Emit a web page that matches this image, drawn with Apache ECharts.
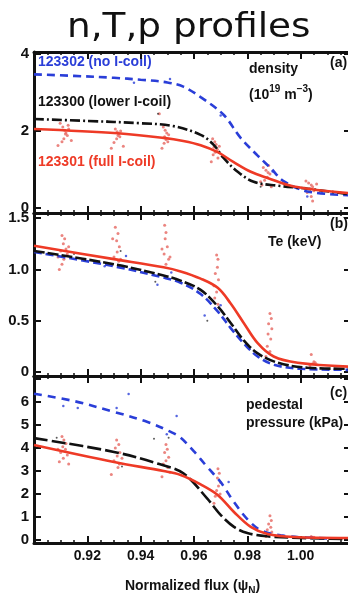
<!DOCTYPE html>
<html>
<head>
<meta charset="utf-8">
<script src="https://cdn.jsdelivr.net/npm/echarts@6/dist/echarts.min.js"></script>
<style>
  html, body { margin: 0; padding: 0; background: #fff; }
  #chart { width: 348px; height: 593px; }
</style>
</head>
<body>
<div id="chart"></div>
<script>
// Profiles vs normalized flux, three shots.

const fluxMajorTicks = [0.90, 0.92, 0.94, 0.96, 0.98, 1.00];
const fluxMinorTicks = [0.905, 0.91, 0.915, 0.925, 0.93, 0.935, 0.945, 0.95, 0.955,
  0.965, 0.97, 0.975, 0.985, 0.99, 0.995, 1.005, 1.01, 1.015];
const fluxLabels = [0.92, 0.94, 0.96, 0.98, 1.00];

const densityTicks = [0, 2, 4];
const tempTicks = [0, 0.5, 1.0, 1.5];
const pressureTicks = [0, 1, 2, 3, 4, 5, 6, 7];
const pressureLabels = [0, 1, 2, 3, 4, 5, 6];

// (a) density, 10^19 m^-3
const densNoCoil = [[0.900, 3.47], [0.915, 3.43], [0.930, 3.38], [0.940, 3.33], [0.950, 3.26],
  [0.956, 3.15], [0.9625, 2.88], [0.9711, 2.42], [0.9775, 1.82], [0.9839, 1.36], [0.9887, 1.04],
  [0.9936, 0.70], [1.0026, 0.43], [1.019, 0.33]];
const densLowerCoil = [[0.900, 2.31], [0.920, 2.26], [0.940, 2.20], [0.952, 2.13],
  [0.9625, 1.90], [0.9674, 1.64], [0.9711, 1.30], [0.9764, 0.94], [0.9824, 0.68], [0.9914, 0.58],
  [1.0026, 0.50], [1.019, 0.35]];
const densFullCoil = [[0.900, 2.05], [0.9314, 1.94], [0.9486, 1.82], [0.956, 1.74], [0.9625, 1.63],
  [0.9689, 1.45], [0.9749, 1.19], [0.9813, 0.94], [0.9876, 0.78], [0.9974, 0.56], [1.019, 0.38]];

// (b) Te, keV
const tempNoCoil = [[0.900, 1.17], [0.930, 1.03], [0.9486, 0.92], [0.955, 0.87], [0.9625, 0.76],
  [0.9689, 0.59], [0.9737, 0.43], [0.9786, 0.28], [0.9839, 0.15], [0.990, 0.07], [1.000, 0.03],
  [1.019, 0.02]];
const tempLowerCoil = [[0.900, 1.18], [0.930, 1.05], [0.9486, 0.94], [0.955, 0.89], [0.9625, 0.80],
  [0.9689, 0.64], [0.9737, 0.48], [0.9786, 0.31], [0.9839, 0.18], [0.9914, 0.09], [1.0026, 0.04],
  [1.019, 0.03]];
const tempFullCoil = [[0.900, 1.23], [0.930, 1.10], [0.9486, 1.02], [0.955, 0.98], [0.9625, 0.91],
  [0.9689, 0.82], [0.9737, 0.67], [0.9786, 0.48], [0.9839, 0.28], [0.9899, 0.15], [0.9989, 0.09],
  [1.019, 0.05]];

// (c) pedestal pressure, kPa
const presNoCoil = [[0.900, 6.36], [0.915, 6.04], [0.930, 5.57], [0.9426, 5.13], [0.9513, 4.70],
  [0.955, 4.45], [0.960, 3.85], [0.965, 3.17], [0.970, 2.52], [0.975, 1.65], [0.980, 0.91],
  [0.985, 0.43], [0.9925, 0.20], [1.005, 0.09], [1.019, 0.05]];
const presLowerCoil = [[0.900, 4.43], [0.930, 3.83], [0.947, 3.30], [0.956, 2.90],
  [0.965, 1.80], [0.970, 1.09], [0.975, 0.57], [0.980, 0.30], [0.9875, 0.16], [1.000, 0.09],
  [1.019, 0.04]];
const presFullCoil = [[0.900, 4.13], [0.930, 3.39], [0.9486, 3.00], [0.955, 2.83], [0.9625, 2.42],
  [0.9689, 1.96], [0.975, 1.22], [0.9813, 0.57], [0.9876, 0.26], [0.9974, 0.13], [1.019, 0.09]];

// measured points (red = full I-coil shot, plus a few blue / black)
const densPointsRed = [
  [0.9098, 2.20], [0.9108, 2.10], [0.9115, 2.02], [0.9120, 1.95], [0.9125, 1.88], [0.9112, 1.80],
  [0.9105, 1.72], [0.9130, 2.05], [0.9118, 1.92], [0.9140, 1.75], [0.9090, 1.62], [0.9128, 2.15],
  [0.9305, 2.05], [0.9312, 1.98], [0.9318, 1.92], [0.9322, 1.85], [0.9310, 1.80], [0.9300, 1.70],
  [0.9325, 2.00], [0.9315, 1.88], [0.9290, 1.55], [0.9335, 1.60],
  [0.9485, 2.10], [0.9492, 2.02], [0.9498, 1.95], [0.9490, 1.85], [0.9495, 1.78], [0.9488, 1.68],
  [0.9502, 1.72], [0.9480, 1.55], [0.9505, 1.90], [0.9470, 2.45],
  [0.9670, 1.80], [0.9678, 1.72], [0.9683, 1.65], [0.9675, 1.58], [0.9688, 1.52], [0.9680, 1.45],
  [0.9672, 1.38], [0.9690, 1.30], [0.9665, 1.20], [0.9695, 1.60],
  [0.9860, 1.05], [0.9870, 0.98], [0.9878, 0.92], [0.9885, 0.88], [0.9875, 0.80], [0.9865, 0.72],
  [0.9880, 1.10], [0.9855, 0.60], [0.9890, 0.55], [0.9850, 0.68],
  [1.0020, 0.70], [1.0030, 0.65], [1.0040, 0.60], [1.0045, 0.55], [1.0035, 0.50], [1.0050, 0.45],
  [1.0025, 0.40], [1.0040, 0.30], [1.0045, 0.18], [1.0060, 0.62], [1.0015, 0.52]
];
const densPointsBlue = [[0.9375, 3.25], [0.9510, 3.35], [0.9700, 2.40], [0.9895, 0.95], [1.0025, 0.30], [1.0080, 0.40]];
const densPointsBlack = [[0.9465, 2.45], [0.9275, 2.25], [0.9850, 0.55]];

const tempPointsRed = [
  [0.9105, 1.33], [0.9115, 1.30], [0.9110, 1.25], [0.9120, 1.20], [0.9100, 1.18], [0.9125, 1.15],
  [0.9112, 1.10], [0.9105, 1.05], [0.9095, 1.00], [0.9130, 1.22], [0.9090, 1.12],
  [0.9305, 1.41], [0.9315, 1.35], [0.9310, 1.28], [0.9320, 1.22], [0.9312, 1.17], [0.9300, 1.12],
  [0.9318, 1.08], [0.9325, 1.10], [0.9295, 1.30],
  [0.9490, 1.43], [0.9495, 1.36], [0.9492, 1.30], [0.9500, 1.22], [0.9488, 1.15], [0.9505, 1.10],
  [0.9495, 1.05], [0.9480, 1.20], [0.9510, 1.12],
  [0.9685, 1.14], [0.9690, 1.10], [0.9688, 1.02], [0.9680, 0.96], [0.9692, 0.90], [0.9675, 0.84],
  [0.9685, 0.78], [0.9678, 0.72], [0.9690, 0.66],
  [0.9885, 0.57], [0.9890, 0.52], [0.9880, 0.47], [0.9892, 0.42], [0.9878, 0.37], [0.9888, 0.32],
  [0.9875, 0.25], [0.9885, 0.20], [0.9870, 0.15],
  [1.0040, 0.17], [1.0050, 0.10], [1.0045, 0.08], [1.0060, 0.07], [1.0035, 0.06], [1.0055, 0.09]
];
const tempPointsBlue = [[0.9265, 1.03], [0.9345, 1.13], [0.9515, 0.97], [0.9463, 0.85], [0.9700, 0.65], [0.9640, 0.55]];
const tempPointsBlack = [[0.9325, 1.18], [0.9455, 0.88], [0.9650, 0.50], [0.9150, 1.15]];

const presPointsRed = [
  [0.9105, 4.50], [0.9112, 4.35], [0.9120, 4.20], [0.9108, 4.05], [0.9118, 3.95], [0.9100, 3.80],
  [0.9125, 3.70], [0.9110, 3.55], [0.9095, 3.40], [0.9130, 3.30], [0.9090, 3.95],
  [0.9310, 4.35], [0.9318, 4.15], [0.9305, 4.00], [0.9322, 3.80], [0.9312, 3.65], [0.9300, 3.45],
  [0.9320, 3.30], [0.9315, 3.15], [0.9290, 2.85], [0.9330, 3.55],
  [0.9495, 4.15], [0.9500, 3.95], [0.9490, 3.80], [0.9505, 3.60], [0.9495, 3.45], [0.9485, 3.30],
  [0.9502, 3.15], [0.9480, 2.75], [0.9510, 2.95],
  [0.9690, 3.10], [0.9695, 2.90], [0.9688, 2.70], [0.9700, 2.50], [0.9692, 2.35], [0.9685, 2.15],
  [0.9680, 1.90], [0.9675, 1.60], [0.9698, 2.00],
  [0.9885, 1.05], [0.9890, 0.85], [0.9880, 0.70], [0.9888, 0.55], [0.9875, 0.45], [0.9892, 0.35],
  [0.9882, 0.25], [0.9870, 0.15],
  [1.0040, 0.15], [1.0050, 0.12], [1.0045, 0.10]
];
const presPointsBlue = [[0.9355, 6.35], [0.9110, 5.83], [0.9164, 5.74], [0.9310, 5.74], [0.9535, 5.39], [0.9498, 4.60], [0.9730, 2.52]];
const presPointsBlack = [[0.9085, 4.45], [0.9450, 4.40], [0.9505, 4.45], [0.9330, 3.20]];

(function renderProfiles() {
  const chart = echarts.init(document.getElementById('chart'), null, { renderer: 'canvas' });
  const font = '"Liberation Sans", Arial, sans-serif';
  const ink = '#111';
  const red = '#ee3a26';
  const blue = '#2a3ed8';
  const dotRed = '#e8706a';
  const fluxMax = 1.0189; // axis runs a bit past the right edge of the picture

  const panels = [
    { top: 52, height: 161, min: -0.13, max: 4.05, ticks: densityTicks, labels: densityTicks,
      fmt: (v) => String(v), lines: [densNoCoil, densLowerCoil, densFullCoil],
      blackDash: [10, 3, 2, 3], blueDash: [8, 5],
      pts: [densPointsRed, densPointsBlue, densPointsBlack] },
    { top: 213, height: 163, min: -0.04, max: 1.55, ticks: tempTicks, labels: tempTicks,
      fmt: (v) => (v === 0 ? '0' : v.toFixed(1)), lines: [tempNoCoil, tempLowerCoil, tempFullCoil],
      blackDash: [11, 3], blueDash: [8, 4],
      pts: [tempPointsRed, tempPointsBlue, tempPointsBlack] },
    { top: 376, height: 167, min: -0.13, max: 7.13, ticks: pressureTicks, labels: pressureLabels,
      fmt: (v) => String(v), lines: [presNoCoil, presLowerCoil, presFullCoil],
      blackDash: [14, 4], blueDash: [8, 6],
      pts: [presPointsRed, presPointsBlue, presPointsBlack] }
  ];

  const grid = [];
  const xAxis = [];
  const yAxis = [];
  const series = [];

  panels.forEach((p, i) => {
    grid.push({ left: 34, top: p.top, width: 317, height: p.height, outerBoundsMode: 'none' });

    ['bottom', 'top'].forEach((pos) => {
      const withLabels = i === 2 && pos === 'bottom';
      xAxis.push({
        type: 'value', gridIndex: i, position: pos, min: 0.90, max: fluxMax,
        axisLine: { show: true, onZero: false, lineStyle: { color: ink, width: 3 } },
        axisTick: { show: true, inside: true, length: 7, customValues: fluxMajorTicks,
          lineStyle: { color: ink, width: 2 } },
        axisLabel: {
          show: withLabels, customValues: fluxLabels, margin: 6,
          formatter: (v) => v.toFixed(2), color: ink, fontFamily: font, fontWeight: 'bold', fontSize: 14
        },
        splitLine: { show: false },
        name: withLabels ? '{m|Normalized flux (\u03c8}{s|N}{m|)}' : '',
        nameLocation: 'middle', nameGap: 33,
        nameTextStyle: {
          rich: {
            m: { fontFamily: font, fontWeight: 'bold', fontSize: 14, color: ink, lineHeight: 20 },
            s: { fontFamily: font, fontWeight: 'bold', fontSize: 10, color: ink, lineHeight: 20,
              verticalAlign: 'bottom', padding: [6, 0, 0, 0] }
          }
        }
      });
      xAxis.push({
        type: 'value', gridIndex: i, position: pos, min: 0.90, max: fluxMax,
        axisLine: { show: false, onZero: false },
        axisTick: { show: true, inside: true, length: 3, customValues: fluxMinorTicks,
          lineStyle: { color: ink, width: 1.5 } },
        axisLabel: { show: false },
        splitLine: { show: false }
      });
    });

    ['left', 'right'].forEach((pos) => {
      yAxis.push({
        type: 'value', gridIndex: i, position: pos, min: p.min, max: p.max,
        axisLine: { show: true, onZero: false, lineStyle: { color: ink, width: 3 } },
        axisTick: { show: true, inside: true, length: 7, customValues: p.ticks,
          lineStyle: { color: ink, width: 2 } },
        axisLabel: {
          show: pos === 'left', customValues: p.labels, margin: 5, formatter: p.fmt,
          color: ink, fontFamily: font, fontWeight: 'bold', fontSize: 15
        },
        splitLine: { show: false }
      });
    });

    const xi = i * 4;
    const yi = i * 2;
    const [noCoil, lowerCoil, fullCoil] = p.lines;
    const [ptsRed, ptsBlue, ptsBlack] = p.pts;

    series.push(
      { type: 'scatter', xAxisIndex: xi, yAxisIndex: yi, data: ptsRed, symbolSize: 3,
        itemStyle: { color: dotRed, opacity: 0.85 }, silent: true },
      { type: 'scatter', xAxisIndex: xi, yAxisIndex: yi, data: ptsBlue, symbolSize: 2.5,
        itemStyle: { color: blue }, silent: true },
      { type: 'scatter', xAxisIndex: xi, yAxisIndex: yi, data: ptsBlack, symbolSize: 2,
        itemStyle: { color: '#333' }, silent: true },
      { type: 'line', xAxisIndex: xi, yAxisIndex: yi, data: noCoil, smooth: 0.35, showSymbol: false,
        lineStyle: { color: blue, width: 2.6, type: p.blueDash } },
      { type: 'line', xAxisIndex: xi, yAxisIndex: yi, data: lowerCoil, smooth: 0.35, showSymbol: false,
        lineStyle: { color: ink, width: 2.6, type: p.blackDash } },
      { type: 'line', xAxisIndex: xi, yAxisIndex: yi, data: fullCoil, smooth: 0.35, showSymbol: false,
        lineStyle: { color: red, width: 2.6 } }
    );
  });

  function label(x, y, text, color) {
    return {
      type: 'text', left: x, top: y, silent: true,
      style: { text: text, fill: color, font: 'bold 14px ' + font }
    };
  }

  chart.setOption({
    animation: false,
    backgroundColor: '#fff',
    grid: grid,
    xAxis: xAxis,
    yAxis: yAxis,
    series: series,
    graphic: [
      {
        // title is a bit wider than DejaVu Sans, so stretch it slightly
        type: 'text', x: 67, y: 28, scaleX: 1.1, silent: true,
        style: {
          text: 'n,T,p profiles', fill: '#111', font: '34px "DejaVu Sans", sans-serif',
          textAlign: 'left', textVerticalAlign: 'middle'
        }
      },
      label(38, 55, '123302 (no I-coil)', blue),
      label(38, 95, '123300 (lower I-coil)', ink),
      label(38, 155, '123301 (full I-coil)', red),
      label(249, 62, 'density', ink),
      {
        type: 'text', left: 249, top: 84, silent: true,
        style: {
          text: '{m|(10}{u|19}{m| m}{u|\u22123}{m|)}',
          rich: {
            m: { fontFamily: font, fontWeight: 'bold', fontSize: 14, fill: ink, lineHeight: 18, verticalAlign: 'bottom' },
            u: { fontFamily: font, fontWeight: 'bold', fontSize: 10, fill: ink, lineHeight: 18, verticalAlign: 'top' }
          }
        }
      },
      label(330, 56, '(a)', ink),
      label(330, 217, '(b)', ink),
      label(268, 235, 'Te (keV)', ink),
      label(330, 386, '(c)', ink),
      label(246, 398, 'pedestal', ink),
      label(246, 416, 'pressure (kPa)', ink)
    ]
  });
})();
</script>
</body>
</html>
